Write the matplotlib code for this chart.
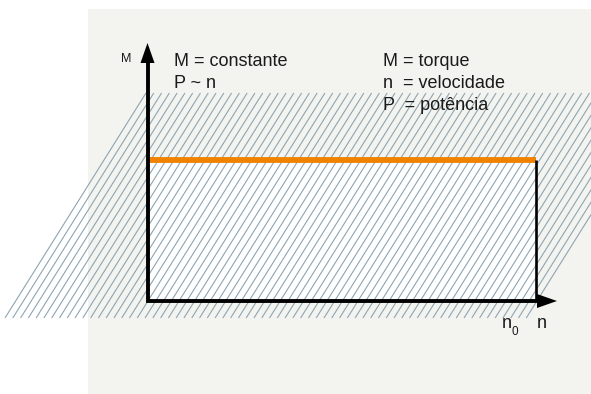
import numpy as np
import matplotlib
matplotlib.use("Agg")
import matplotlib.pyplot as plt
from matplotlib.patches import Rectangle, Polygon

plt.rcParams['font.family'] = ['Liberation Sans', 'DejaVu Sans']

# ---- data (conceptual: constant torque up to n0) ----
n_range = [0.0, 1.0]          # n from 0 to n0
M_values = [1.0, 1.0]         # M = constant
n0 = n_range[1]
M_const = M_values[0]

left_labels = ["M = constante", "P ~ n"]
right_labels = ["M = torque", "n  = velocidade", "P  = potência"]
y_axis_label = "M"
x_axis_label = "n"
n0_label = ("n", "0")

# ---- layout (pixel geometry -> data units) ----
W, H = 591, 394
OX, OY = 147.5, 301.0      # origin in pixels
SX, SY = 388.0, 141.0      # pixels per data unit


def P(xp, yp):
    return ((xp - OX) / SX, (OY - yp) / SY)


fig = plt.figure(figsize=(W / 100, H / 100), dpi=100)
fig.patch.set_facecolor('white')
ax = fig.add_axes([0, 0, 1, 1])
ax.set_xlim(P(0, 0)[0], P(W, 0)[0])
ax.set_ylim(P(0, H)[1], P(0, 0)[1])
ax.axis('off')

# gray panel
px0, py0 = P(88, H + 10)
px1, py1 = P(W + 10, 9)
ax.add_patch(Rectangle((px0, py0), px1 - px0, py1 - py0, facecolor='#f3f3f0',
                       edgecolor='none', zorder=0))

# white operating region below the torque line
ax.add_patch(Rectangle((n_range[0], 0), n0 - n_range[0], M_const,
                       facecolor='white', edgecolor='none', zorder=1))

# slanted hatch band
hatch_color = '#8ea5b3'
for xb in np.arange(5, 531, 7.78):
    a = P(xb, 318)
    b = P(xb + 141, 93)
    ax.plot([a[0], b[0]], [a[1], b[1]], color=hatch_color, lw=0.8,
            solid_capstyle='butt', zorder=2)

# torque line and limit at n0
ax.plot(n_range, M_values, color='#f08200', lw=4.2, solid_capstyle='butt', zorder=3)
ax.plot([n0, n0], [0, M_const], color='black', lw=1.9, solid_capstyle='butt', zorder=3)

# axes with arrows
ytip = P(OX, 43)[1]
ybase = P(OX, 63)[1]
xtip = P(557, OY)[0]
xbase = P(537, OY)[0]
ax.plot([0, 0, xbase], [ybase, 0, 0], color='black', lw=2.8,
        solid_joinstyle='miter', solid_capstyle='butt', zorder=4)
hw_x = 7 / SX
hw_y = 7 / SY
ax.add_patch(Polygon([(-hw_x, ybase), (0, ytip), (hw_x, ybase)], closed=True,
                     facecolor='black', edgecolor='none', zorder=4))
ax.add_patch(Polygon([(xbase, -hw_y), (xtip, 0), (xbase, hw_y)], closed=True,
                     facecolor='black', edgecolor='none', zorder=4))

# texts
tc = '#1a1a1a'
fs = 13
for i, s in enumerate(left_labels):
    x, y = P(173.5, 65.5 + 22.5 * i)
    ax.text(x, y, s, fontsize=fs, color=tc, ha='left', va='baseline', zorder=5)
for i, s in enumerate(right_labels):
    x, y = P(383, 65.5 + 22.5 * i)
    ax.text(x, y, s, fontsize=fs, color=tc, ha='left', va='baseline', zorder=5)

x, y = P(121, 62.3)
ax.text(x, y, y_axis_label, fontsize=9, color=tc, ha='left', va='baseline', zorder=5)
x, y = P(537, 328.3)
ax.text(x, y, x_axis_label, fontsize=fs, color=tc, ha='left', va='baseline', zorder=5)
x, y = P(501.5, 328.3)
ax.text(x, y, n0_label[0], fontsize=fs, color=tc, ha='left', va='baseline', zorder=5)
x, y = P(512, 335)
ax.text(x, y, n0_label[1], fontsize=8.5, color=tc, ha='left', va='baseline', zorder=5)

fig.savefig('out.png', dpi=100, facecolor='white')
